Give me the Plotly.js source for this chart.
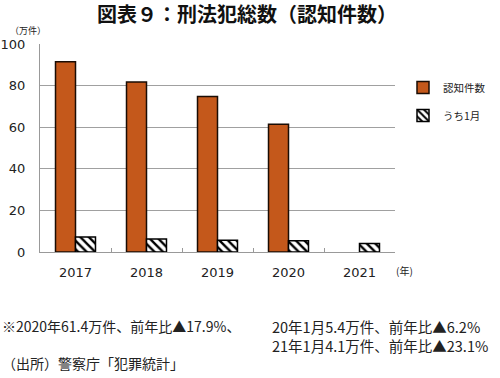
<!DOCTYPE html>
<html>
<head>
<meta charset="utf-8">
<script src="https://cdn.plot.ly/plotly-3.0.1.min.js"></script>
<style>body{margin:0;padding:0;background:#fff;}#chart{width:500px;height:378px;}</style>
</head>
<body>
<div id="chart"></div>
<script>
const years = ["2017", "2018", "2019", "2020", "2021"];
const totalCases = [91.5, 81.7, 74.8, 61.4, null];
const januaryCases = [7.2, 6.2, 5.7, 5.4, 4.1];
const seriesNames = ["認知件数", "うち1月"];
const yTicks = [0, 20, 40, 60, 80, 100];

const jp = '"Noto Sans CJK JP", "Noto Sans", sans-serif';
const num = '"DejaVu Sans", Verdana, sans-serif';

const L = 40, R = 395, T = 44, B = 252.5;
const px = x => (x - L) / (R - L);
const py = y => (B - y) / (B - T);

const traces = [
  {
    type: "bar", x: years, y: totalCases, name: seriesNames[0], legendgroup: "a",
    marker: {color: "#C4581B", line: {color: "#1a0c04", width: 1.5}},
    hoverinfo: "x+y"
  },
  {
    type: "bar", x: years, y: januaryCases, name: seriesNames[1], legendgroup: "b",
    marker: {color: "#ffffff", line: {color: "#000000", width: 1.5},
      pattern: {shape: "\\", fgcolor: "#000000", bgcolor: "#ffffff", size: 6, solidity: 0.4}},
    hoverinfo: "x+y"
  }
];

const ann = (text, x, y, size, xanchor, font) => ({
  text: text, xref: "paper", yref: "paper", x: px(x), y: py(y),
  xanchor: xanchor || "left", yanchor: "middle", showarrow: false,
  font: {family: font || jp, size: size, color: "#222"}
});

const layout = {
  width: 500, height: 378,
  margin: {l: L, r: 500 - R, t: T, b: 378 - B, pad: 0, autoexpand: false},
  paper_bgcolor: "#fff", plot_bgcolor: "#fff",
  title: {text: "<b>図表９：刑法犯総数（認知件数）</b>", x: 247/500, xref: "container", xanchor: "center",
    y: 1 - 15/378, yanchor: "middle",
    font: {family: jp, size: 20, color: "#111"}},
  barmode: "group", bargap: 0.437, bargroupgap: 0,
  showlegend: true,
  legend: {x: px(403), y: py(73), xanchor: "left", yanchor: "top",
    font: {family: jp, size: 10.5, color: "#222"}, itemwidth: 30, tracegroupgap: 9,
    bgcolor: "rgba(0,0,0,0)"},
  xaxis: {type: "category", showgrid: false, showline: true, linecolor: "#999", linewidth: 1,
    ticks: "inside", ticklen: 4, tickcolor: "#999", tickson: "boundaries",
    ticklabelstandoff: 8,
    tickfont: {family: num, size: 13, color: "#222"}, fixedrange: true},
  yaxis: {range: [0, 100], tickvals: yTicks, showgrid: true, gridcolor: "#a0a0a0", gridwidth: 1,
    showline: true, linecolor: "#999", linewidth: 1, zeroline: false, ticks: "",
    ticklabelstandoff: 11,
    tickfont: {family: num, size: 13, color: "#222"}, fixedrange: true},
  annotations: [
    ann("（万件）", 28, 30, 9, "center"),
    ann("(年)", 404, 271, 10, "center"),
    ann("※2020年61.4万件、前年比▲17.9%、", 0, 327, 14),
    ann("20年1月5.4万件、前年比▲6.2%", 270, 327, 14.5),
    ann("21年1月4.1万件、前年比▲23.1%", 270, 346, 14.5),
    ann("（出所）警察庁「犯罪統計」", 0, 364, 14)
  ]
};

Plotly.newPlot("chart", traces, layout, {displayModeBar: false, staticPlot: true});
</script>
</body>
</html>
